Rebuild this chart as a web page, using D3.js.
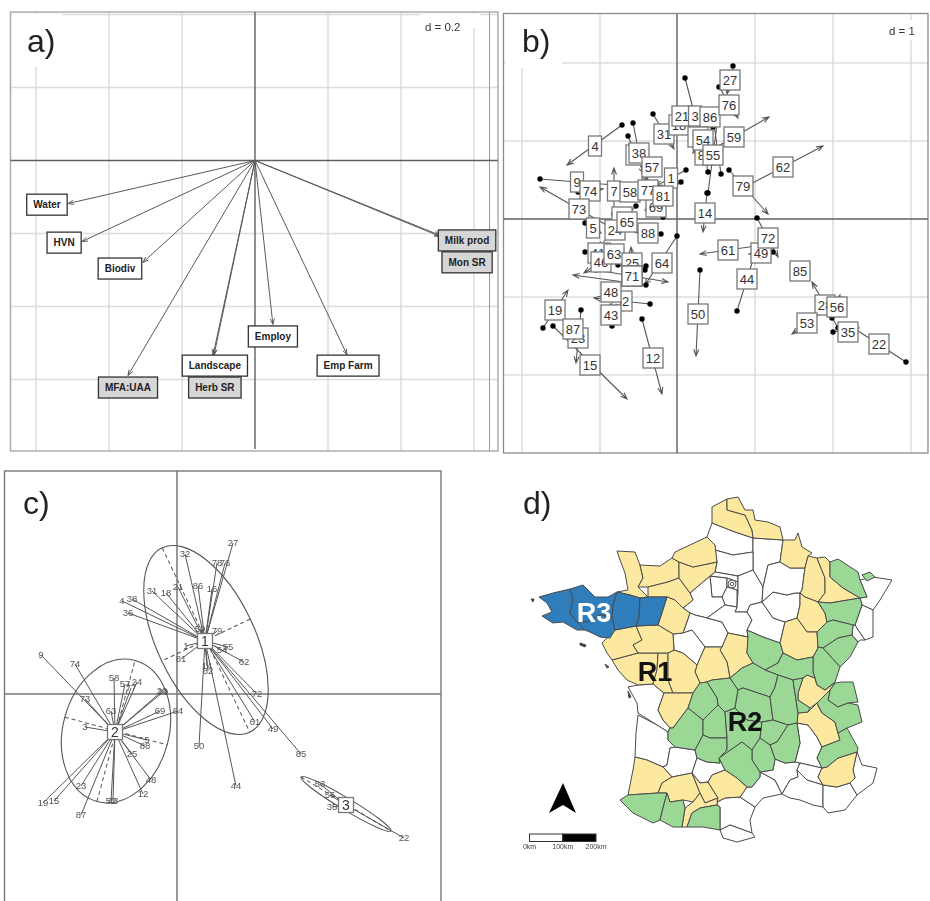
<!DOCTYPE html>
<html><head><meta charset="utf-8">
<script src="https://cdn.jsdelivr.net/npm/d3@7/dist/d3.min.js"></script>
<style>html,body{margin:0;padding:0;background:#fff}svg{display:block;font-family:"Liberation Sans",Arial,sans-serif;filter:blur(.35px)}</style>
</head><body><svg id="fig" width="930" height="901"></svg>
<script>
// ---------- Panel a: variable loadings (d = 0.2) ----------
const varNames = ["Water","HVN","Biodiv","MFA:UAA","Landscape","Herb SR","Employ","Emp Farm","Milk prod","Mon SR"];
const varX     = [-0.512,-0.474,-0.307,-0.348,-0.112,-0.115,0.049,0.252,0.507,0.507];
const varY     = [-0.118,-0.222,-0.279,-0.589,-0.532,-0.534,-0.449,-0.532,-0.205,-0.208];
const varLabelX= [-0.570,-0.523,-0.370,-0.348,-0.110,-0.110,0.049,0.255,0.581,0.581];
const varLabelY= [-0.121,-0.225,-0.296,-0.622,-0.562,-0.622,-0.482,-0.562,-0.219,-0.279];
const varGrey  = [0,0,0,1,0,1,0,0,1,1];
const aGridTicks = [-0.6,-0.4,-0.2,0.2,0.4,0.6];

// ---------- Panel b: site scores, start, label and arrow end (units of d/78) ----------
const siteIds = ["4","9","74","73","5","7","58","36","38","57","31","1","69","77","81","","24","65","88","14","18","21","3","86","27","76","59","","82","54","55","79","62","61","49","72","44","50","85","28","56","53","35","22","64","41","46","63","25","","","71","52","48","43","19","23","87","15","12"];
const siteLabelX = [-82,-100,-87,-98,-84,-63,-47,-41,-38,-25,-13,-6,-21,-29,-14,-55,-62,-50,-29,28,2,5,18,33,53,52,57,21,28,26,36,66,106,51,84,91,70,21,123,148,160,130,171,202,-15,-79,-76,-63,-45,-45,-45,-45,-55,-66,-66,-122,-99,-104,-87,-24];
const siteLabelY = [73,37,28,10,-9,28,27,64,66,52,85,41,12,29,23,2,-11,-3,-14,6,94,103,103,102,139,114,82,82,64,79,64,33,52,-31,-34,-19,-60,-95,-52,-86,-88,-104,-113,-125,-44,-34,-43,-35,-44,-57,-57,-57,-82,-73,-96,-91,-119,-110,-146,-139];
const siteDotX   = [-55,-137,-99,-60,-92,-63,-51,-49,-44,-32,-24,9,-14,-28,4,-59,-41,-54,-16,30,-2,1,8,44,56,42,22,17,31,36,31,52,66,79,96,80,60,23,119,161,155,145,156,229,0,-92,-59,-59,-44,-31,-32,-81,-27,-31,-65,-134,-96,-111,-124,-35];
const siteDotY   = [94,40,27,-12,-4,5,23,83,96,61,105,49,2,16,37,7,13,1,-15,26,99,107,141,45,153,132,62,86,47,92,26,49,31,-27,-33,1,-92,-51,-47,-109,-99,-93,-113,-143,-17,-33,-31,-46,-60,-47,-51,-51,-85,-66,-107,-109,-91,-103,-107,-100];
const siteTipX   = [-110,-63,-74,-137,-76,-63,-43,-33,-32,-18,-3,-21,-28,-30,-32,-51,-79,-46,-42,26,6,9,28,35,50,61,92,25,25,16,41,91,146,23,72,101,80,19,127,135,163,115,182,175,-32,-67,-93,-67,-46,-45,-45,-9,-83,-104,-67,-109,-101,-97,-50,-15];
const siteTipY   = [54,34,30,32,-14,51,31,45,36,43,70,33,22,42,9,-3,-29,-7,-13,-13,89,99,65,109,125,101,102,78,81,66,102,5,73,-35,-35,-38,-28,-137,-57,-63,-76,-115,-109,-108,-66,-36,-54,-24,-28,-57,-57,-63,-79,-56,-85,-71,-144,-117,-180,-175];
const bGridX = [-155,-77,78,156,234];
const bGridY = [156,78,-78,-156];

// ---------- Panel c: classes on the factorial plane (units of d/78) ----------
const classIds   = ["1","2","3"];
const classX     = [28,-62,169];
const classY     = [53,-38,-111];
const ellCx      = [29,-61,169];
const ellCy      = [54,-37,-110];
const ellMajor   = [102,73,52.5];
const ellMinor   = [49,53,6];
const ellAngle   = [64.6,-74.9,31];
const starIds = ["27","78","76","32","86","16","21","18","31","38","4","36","59","79","55","54","62","72","61","49","85","44","50","14","82","81","1",
 "9","74","73","58","57","77","24","63","3","29","20","69","64","5","88","25","48","12","43","52","23","19","15","87",
 "53","56","28","35","22"];
const starX = [56,40,48,8,21,35,1,-11,-25,-45,-55,-49,23,40,51,45,67,80,78,96,124,59,22,30,31,4,9,
 -136,-102,-92,-63,-52,-46,-40,-66,-92,-14,-15,-17,1,-30,-32,-45,-26,-34,-64,-66,-96,-134,-123,-96,
 143,153,166,155,227];
const starY = [151,131,131,140,108,105,107,101,103,95,93,81,65,63,47,44,32,0,-28,-35,-60,-92,-52,28,23,35,48,
 39,30,-5,16,10,6,12,-17,-33,2,3,-17,-17,-46,-52,-60,-86,-100,-107,-107,-92,-109,-107,-121,
 -90,-101,-106,-113,-144];
const starClass = [0,0,0,0,0,0,0,0,0,0,0,0,0,0,0,0,0,0,0,0,0,0,0,0,0,0,0,
 1,1,1,1,1,1,1,1,1,1,1,1,1,1,1,1,1,1,1,1,1,1,1,1,
 2,2,2,2,2];

// ---------- Panel d: department outlines in map units, by cluster ----------
const blueDepts = [
 [[539,597],[553,593],[570,589],[573,600],[570,613],[577,622],[585,630],[577,630],[563,622],[553,623],[542,616],[552,612],[547,603]],
 [[570,589],[583,585],[595,597],[608,597],[617,592],[613,605],[612,617],[600,615],[587,622],[577,622],[570,613],[573,600]],
 [[577,622],[587,622],[600,615],[612,617],[615,630],[610,638],[600,637],[592,633],[585,630]],
 [[617,592],[630,595],[640,598],[639,617],[636,626],[615,630],[612,617],[613,605]],
 [[640,598],[648,597],[667,597],[658,625],[636,626],[639,617]]
];
const yellowDepts = [
 [[617,551],[635,552],[640,565],[643,578],[638,587],[648,597],[640,598],[630,595],[617,592],[628,590],[625,573],[620,560]],
 [[640,565],[660,566],[672,558],[679,562],[679,578],[668,582],[648,587],[638,587],[643,578]],
 [[648,587],[668,582],[679,578],[690,593],[693,600],[683,608],[675,600],[667,597],[648,597]],
 [[667,597],[675,600],[683,608],[690,613],[683,633],[673,634],[658,625]],
 [[679,562],[693,567],[717,562],[715,572],[710,576],[690,593],[679,578]],
 [[672,558],[675,552],[707,537],[715,545],[717,562],[693,567],[679,562]],
 [[712,507],[727,499],[727,510],[745,515],[752,530],[753,538],[735,532],[712,523]],
 [[727,499],[738,497],[745,510],[753,510],[755,520],[768,522],[780,527],[783,540],[753,538],[752,530],[745,515],[727,510]],
 [[780,562],[783,540],[795,540],[798,533],[802,547],[812,553],[808,556],[805,568],[790,568]],
 [[805,568],[808,556],[817,558],[825,578],[825,593],[818,602],[805,597],[800,593],[802,590]],
 [[817,558],[825,557],[830,562],[830,577],[843,588],[860,598],[830,603],[818,602],[825,593],[825,578]],
 [[800,593],[805,597],[818,602],[825,613],[827,622],[817,632],[807,632],[797,618],[800,605]],
 [[785,622],[797,618],[807,632],[817,632],[818,647],[817,650],[813,657],[797,660],[783,653],[780,643]],
 [[722,647],[728,633],[748,637],[747,653],[753,663],[742,668],[730,678],[727,662],[720,650]],
 [[705,647],[722,647],[720,650],[727,662],[730,678],[712,680],[707,682],[700,683],[695,672],[697,665]],
 [[612,660],[638,653],[658,653],[657,670],[653,684],[638,685],[627,680],[618,670]],
 [[658,653],[668,653],[668,680],[673,693],[664,693],[653,684],[657,670]],
 [[668,653],[674,650],[683,653],[697,665],[695,672],[700,683],[693,693],[673,693],[668,680]],
 [[658,710],[664,693],[673,693],[693,693],[688,708],[673,728],[670,728],[663,720]],
 [[602,643],[615,630],[636,626],[642,640],[633,645],[638,653],[612,660],[607,653]],
 [[636,626],[658,625],[673,634],[674,650],[668,653],[638,653],[633,645],[642,640]],
 [[635,757],[647,760],[663,767],[672,777],[662,783],[658,793],[628,795],[633,770]],
 [[662,783],[672,777],[692,773],[700,793],[693,802],[683,800],[670,802],[667,793],[658,793]],
 [[692,773],[700,783],[708,782],[718,798],[705,803],[700,793]],
 [[700,793],[705,803],[718,798],[717,805],[700,808],[692,813],[687,827],[682,827],[685,808],[693,802]],
 [[712,775],[725,770],[737,778],[747,787],[740,797],[725,798],[717,802],[718,798],[708,782]],
 [[798,693],[803,678],[807,675],[815,678],[817,685],[825,690],[835,683],[830,690],[817,703],[810,708],[798,700]],
 [[797,723],[798,713],[808,712],[817,703],[822,713],[835,722],[838,733],[840,740],[822,747],[817,737],[808,725]],
 [[822,768],[827,767],[838,758],[857,752],[853,770],[855,778],[850,783],[837,787],[823,785],[818,777]]
];
const greenDepts = [
 [[830,562],[838,559],[858,572],[860,580],[867,597],[860,598],[843,588],[830,577]],
 [[862,575],[870,572],[875,577],[867,581]],
 [[818,602],[830,603],[860,598],[862,605],[855,625],[853,625],[833,620],[827,622],[825,613]],
 [[827,622],[833,620],[853,625],[852,635],[838,638],[823,648],[818,647],[817,632]],
 [[852,635],[858,642],[850,657],[840,667],[823,648],[838,638]],
 [[823,648],[840,667],[835,682],[825,690],[817,685],[815,678],[813,672],[813,657],[817,650],[818,647]],
 [[748,637],[747,630],[763,637],[780,643],[783,653],[778,663],[765,670],[753,663],[747,653]],
 [[783,653],[797,660],[813,657],[813,672],[815,678],[807,675],[803,678],[793,680],[778,675],[765,670],[778,663]],
 [[730,678],[742,668],[753,663],[765,670],[778,675],[775,687],[770,697],[755,692],[743,688],[738,690]],
 [[712,680],[730,678],[738,690],[735,708],[725,712],[718,705],[717,698],[707,682]],
 [[688,708],[693,693],[700,683],[707,682],[717,698],[718,705],[703,720]],
 [[688,708],[673,728],[670,728],[668,732],[668,740],[675,747],[695,750],[703,735],[703,720]],
 [[703,720],[718,705],[725,712],[727,738],[710,738],[703,735]],
 [[703,735],[710,738],[727,738],[727,750],[719,758],[720,763],[707,762],[697,758],[695,750]],
 [[727,738],[725,712],[735,708],[747,720],[762,722],[760,738],[752,750],[742,742],[719,758],[727,750]],
 [[738,690],[743,688],[755,692],[770,697],[773,720],[762,722],[747,720],[735,708]],
 [[770,697],[775,687],[778,675],[793,680],[798,713],[797,723],[788,725],[773,720]],
 [[793,680],[803,678],[798,693],[798,700],[810,708],[808,712],[798,713]],
 [[762,722],[773,720],[788,725],[777,742],[770,745],[760,738]],
 [[777,742],[788,725],[797,723],[800,743],[795,762],[785,763],[775,759],[770,745]],
 [[752,750],[760,738],[770,745],[775,759],[773,770],[760,772],[752,760]],
 [[719,758],[742,742],[752,750],[752,760],[760,772],[760,777],[752,787],[747,787],[737,778],[725,770]],
 [[830,690],[835,683],[842,682],[853,682],[858,702],[848,703],[838,707],[828,700]],
 [[822,713],[817,703],[830,690],[828,700],[838,707],[848,703],[858,705],[862,722],[847,728],[838,733],[835,722]],
 [[817,758],[822,747],[840,740],[838,733],[847,728],[858,748],[857,752],[838,758],[827,767],[822,768]],
 [[620,800],[628,795],[658,793],[667,793],[663,808],[660,820],[653,823],[633,813]],
 [[667,793],[670,802],[683,800],[685,808],[682,827],[673,827],[660,820],[663,808]],
 [[692,813],[700,808],[717,805],[720,807],[720,830],[703,827],[687,827]]
];
const whiteDepts = [
 [[712,523],[735,532],[753,538],[753,552],[733,555],[715,550],[715,545],[707,537]],
 [[753,538],[783,540],[780,562],[768,565],[763,587],[753,570],[753,552]],
 [[715,550],[733,555],[753,552],[753,570],[738,576],[715,572],[717,562]],
 [[710,576],[727,578],[727,587],[722,597],[712,597]],
 [[715,572],[738,576],[738,582],[727,578],[710,576]],
 [[727,578],[738,582],[738,593],[737,590],[727,587]],
 [[722,597],[727,587],[737,590],[737,607],[725,605]],
 [[738,576],[753,570],[763,587],[762,602],[750,605],[747,612],[735,612],[737,607],[738,593]],
 [[690,593],[710,576],[712,597],[722,597],[725,605],[722,607],[707,618],[695,615],[690,613],[683,608],[693,600]],
 [[690,613],[695,615],[707,618],[722,622],[728,633],[722,647],[705,647],[692,630],[683,633]],
 [[722,607],[725,605],[737,607],[735,612],[747,612],[752,620],[747,630],[748,637],[728,633],[722,622],[707,618]],
 [[750,605],[762,602],[773,618],[785,622],[780,643],[763,637],[747,630],[752,620],[747,612]],
 [[762,602],[773,592],[787,595],[795,593],[800,593],[800,605],[797,618],[785,622],[773,618]],
 [[763,587],[768,565],[780,562],[790,568],[805,568],[802,590],[800,593],[795,593],[787,595],[773,592],[762,602]],
 [[673,634],[683,633],[692,630],[705,647],[697,665],[683,653],[674,650]],
 [[860,580],[873,577],[892,580],[880,600],[873,610],[862,605],[860,598],[867,597]],
 [[862,605],[873,610],[873,637],[865,640],[858,630],[855,625]],
 [[853,625],[855,625],[858,630],[865,640],[860,640],[858,642],[852,635]],
 [[628,687],[638,685],[653,684],[664,693],[658,710],[663,720],[670,728],[668,732],[657,725],[638,713],[637,703]],
 [[638,715],[657,725],[668,732],[668,740],[675,747],[670,748],[667,765],[663,767],[647,760],[635,757],[636,733]],
 [[670,748],[675,747],[695,750],[697,758],[692,773],[672,777],[663,767],[667,765]],
 [[692,773],[697,758],[707,762],[720,763],[719,758],[725,770],[712,775],[708,782],[700,783]],
 [[717,805],[717,802],[725,798],[740,797],[755,807],[750,820],[752,833],[730,825],[720,830],[720,807]],
 [[720,830],[730,825],[752,833],[755,837],[737,842],[723,838]],
 [[740,797],[747,787],[752,787],[760,777],[760,772],[775,780],[782,794],[763,798],[755,807]],
 [[760,772],[773,770],[775,759],[785,763],[795,762],[800,763],[797,770],[798,777],[790,780],[782,794],[775,780]],
 [[797,723],[808,725],[817,737],[822,747],[817,758],[822,768],[800,763],[795,762],[800,743]],
 [[800,763],[822,768],[818,777],[823,785],[807,780],[797,770]],
 [[782,794],[790,780],[798,777],[797,770],[807,780],[823,785],[823,807],[813,805],[800,800],[790,798]],
 [[823,785],[837,787],[850,783],[857,795],[845,810],[828,813],[823,807]],
 [[857,752],[862,765],[877,768],[873,783],[857,795],[850,783],[855,778],[853,770]]
];
const islands = [
 [[531,599],[534,599],[533,602]],[[580,643],[586,645],[585,647],[580,645]],
 [[605,664],[609,667],[607,668]],[[628,691],[631,697],[629,698]]
];
const regionNames = ["R3","R1","R2"];
const regionX = [594,655,745];
const regionY = [622,681,731];
const regionFill = ["#fff","#111","#111"];
const northArrow = [[563,783],[576,813],[563,805],[549,813]];
const scaleKm = [0,100,200];

// ---------- Drawing ----------
const svg = d3.select("#fig");
const GRID="#dcdcdc", AXIS="#5f5f5f", FRAME="#a8a8a8";

function arrowPath(x0,y0,x1,y1,len){
  const a=Math.atan2(y1-y0,x1-x0), s=0.36, p=d3.path();
  p.moveTo(x0,y0); p.lineTo(x1,y1);
  p.moveTo(x1-len*Math.cos(a-s),y1-len*Math.sin(a-s));
  p.lineTo(x1,y1);
  p.lineTo(x1-len*Math.cos(a+s),y1-len*Math.sin(a+s));
  return p.toString();
}
function panelText(x,y,t){svg.append("text").attr("x",x).attr("y",y).attr("font-size",32).attr("fill","#222").text(t);}

function gridLines(g,xs,ys,xr,yr){
  g.selectAll(null).data(xs).join("line").attr("x1",d=>d).attr("x2",d=>d).attr("y1",yr[0]).attr("y2",yr[1]).attr("stroke",GRID).attr("stroke-width",1.5);
  g.selectAll(null).data(ys).join("line").attr("y1",d=>d).attr("y2",d=>d).attr("x1",xr[0]).attr("x2",xr[1]).attr("stroke",GRID).attr("stroke-width",1.5);
}

// ----- a -----
(function(){
  const ax=d3.scaleLinear().domain([0,0.2]).range([255,328]);
  const ay=d3.scaleLinear().domain([0,0.2]).range([160.5,87.5]);
  const g=svg.append("g");
  gridLines(g,aGridTicks.map(ax),aGridTicks.slice(1,5).map(ay).concat([ay(-0.6)]),[10.5,498],[12,451]);
  g.append("rect").attr("x",12).attr("y",14).attr("width",50).attr("height",53).attr("fill","#fff");
  g.append("rect").attr("x",420).attr("y",14).attr("width",60).attr("height",14).attr("fill","#fff");
  g.append("rect").attr("x",10.5).attr("y",12).attr("width",487.5).attr("height",439).attr("fill","none").attr("stroke",FRAME).attr("stroke-width",1.4);
  g.append("line").attr("x1",489.5).attr("x2",489.5).attr("y1",12).attr("y2",451).attr("stroke","#999");
  g.append("line").attr("x1",ax(0)).attr("x2",ax(0)).attr("y1",12).attr("y2",449).attr("stroke",AXIS).attr("stroke-width",1.4);
  g.append("line").attr("x1",10.5).attr("x2",498).attr("y1",ay(0)).attr("y2",ay(0)).attr("stroke",AXIS).attr("stroke-width",1.3);
  const idx=d3.range(varNames.length);
  g.selectAll(null).data(idx).join("path")
    .attr("d",i=>arrowPath(ax(0),ay(0),ax(varX[i]),ay(varY[i]),6))
    .attr("fill","none").attr("stroke","#5a5a5a").attr("stroke-width",1);
  const lab=g.selectAll(null).data(idx).join("g").attr("transform",i=>`translate(${ax(varLabelX[i])},${ay(varLabelY[i])})`);
  lab.append("text").attr("text-anchor","middle").attr("dy",3.6).attr("font-size",10).attr("font-weight","bold").attr("fill","#222").text(i=>varNames[i]);
  lab.insert("rect","text").each(function(){
    const w=this.parentNode.querySelector("text").getComputedTextLength()+13;
    d3.select(this).attr("x",-w/2).attr("width",w);
  }).attr("y",-10.5).attr("height",21)
    .attr("fill",i=>varGrey[i]?"#d6d6d6":"#fff").attr("stroke","#333").attr("stroke-width",1.3);
  svg.append("text").attr("x",425).attr("y",31).attr("font-size",11.5).attr("fill","#333").text("d = 0.2");
  panelText(27,52,"a)");
})();

// ----- b -----
(function(){
  const bx=d3.scaleLinear().domain([0,78]).range([677,755]);
  const by=d3.scaleLinear().domain([0,78]).range([219,141]);
  const g=svg.append("g");
  gridLines(g,bGridX.map(bx),bGridY.map(by),[503.5,928],[14,453]);
  g.append("rect").attr("x",505).attr("y",15).attr("width",57).attr("height",53).attr("fill","#fff");
  g.append("rect").attr("x",885).attr("y",20).attr("width",40).attr("height",20).attr("fill","#fff");
  g.append("rect").attr("x",503.5).attr("y",13.5).attr("width",424.5).attr("height",439.5).attr("fill","none").attr("stroke","#8c8c8c").attr("stroke-width",1.3);
  g.append("line").attr("x1",bx(0)).attr("x2",bx(0)).attr("y1",14).attr("y2",453).attr("stroke",AXIS).attr("stroke-width",1.4);
  g.append("line").attr("x1",503.5).attr("x2",928).attr("y1",by(0)).attr("y2",by(0)).attr("stroke",AXIS).attr("stroke-width",1.4);
  const idx=d3.range(siteIds.length);
  g.selectAll(null).data(idx).join("path")
    .attr("d",i=>arrowPath(bx(siteDotX[i]),by(siteDotY[i]),bx(siteTipX[i]),by(siteTipY[i]),7))
    .attr("fill","none").attr("stroke","#555").attr("stroke-width",1.1);
  g.selectAll(null).data(idx).join("circle")
    .attr("cx",i=>bx(siteDotX[i])).attr("cy",i=>by(siteDotY[i])).attr("r",2.7).attr("fill","#000");
  const lab=g.selectAll(null).data(idx).join("g").attr("transform",i=>`translate(${bx(siteLabelX[i])},${by(siteLabelY[i])})`);
  lab.append("rect").attr("x",i=>siteIds[i].length===1?-6.5:-10).attr("width",i=>siteIds[i].length===1?13:20)
    .attr("y",-10).attr("height",20).attr("fill","#fff").attr("stroke","#777").attr("stroke-width",1.3);
  lab.append("text").attr("text-anchor","middle").attr("dy",4.6).attr("font-size",13).attr("fill","#333").text(i=>siteIds[i]);
  svg.append("text").attr("x",889).attr("y",35).attr("font-size",11.5).attr("fill","#333").text("d = 1");
  panelText(522,52,"b)");
})();

// ----- c -----
(function(){
  const cx=d3.scaleLinear().domain([0,78]).range([177,255]);
  const cy=d3.scaleLinear().domain([0,78]).range([694,616]);
  const g=svg.append("g");
  g.append("rect").attr("x",4.5).attr("y",471).attr("width",436.5).attr("height",435).attr("fill","none").attr("stroke","#777").attr("stroke-width",1.4);
  g.append("line").attr("x1",cx(0)).attr("x2",cx(0)).attr("y1",471).attr("y2",901).attr("stroke","#777").attr("stroke-width",1.5);
  g.append("line").attr("x1",4.5).attr("x2",441).attr("y1",cy(0)).attr("y2",cy(0)).attr("stroke","#777").attr("stroke-width",1.5);
  const ec=d3.range(classIds.length);
  const eg=g.selectAll(null).data(ec).join("g").attr("transform",i=>`translate(${cx(ellCx[i])},${cy(ellCy[i])}) rotate(${ellAngle[i]})`);
  eg.append("ellipse").attr("rx",i=>ellMajor[i]).attr("ry",i=>ellMinor[i]).attr("fill","none").attr("stroke","#555").attr("stroke-width",1.1);
  eg.append("line").attr("x1",i=>-ellMajor[i]).attr("x2",i=>ellMajor[i]).attr("stroke","#555").attr("stroke-dasharray","4 3");
  eg.append("line").attr("y1",i=>-ellMinor[i]).attr("y2",i=>ellMinor[i]).attr("stroke","#555").attr("stroke-dasharray","4 3");
  const idx=d3.range(starIds.length);
  g.selectAll(null).data(idx).join("line")
    .attr("x1",i=>cx(classX[starClass[i]])).attr("y1",i=>cy(classY[starClass[i]]))
    .attr("x2",i=>cx(starX[i])).attr("y2",i=>cy(starY[i]))
    .attr("stroke","#555").attr("stroke-width",1);
  g.selectAll(null).data(idx).join("text")
    .attr("x",i=>cx(starX[i])).attr("y",i=>cy(starY[i])+3.3).attr("text-anchor","middle")
    .attr("font-size",9.5).attr("fill","#555").text(i=>starIds[i]);
  const lab=g.selectAll(null).data(ec).join("g").attr("transform",i=>`translate(${cx(classX[i])},${cy(classY[i])})`);
  lab.append("rect").attr("x",-7.5).attr("y",-7.5).attr("width",15).attr("height",15).attr("fill","#fff").attr("stroke","#777").attr("stroke-width",1.3);
  lab.append("text").attr("text-anchor","middle").attr("dy",5).attr("font-size",14).attr("fill","#333").text(i=>classIds[i]);
  panelText(23,514,"c)");
})();

// ----- d -----
(function(){
  const path=d3.geoPath(d3.geoIdentity());
  const g=svg.append("g");
  const poly=r=>({type:"Polygon",coordinates:[r.concat([r[0]])]});
  const layers=[[whiteDepts,"#fff"],[yellowDepts,"#fde8a0"],[greenDepts,"#9bd795"],[blueDepts,"#2f7dbb"],[islands,"#444"]];
  layers.forEach(([rings,fill])=>{
    g.selectAll(null).data(rings).join("path").attr("d",r=>path(poly(r)))
      .attr("fill",fill).attr("stroke","#4a4a4a").attr("stroke-width",1).attr("stroke-linejoin","round");
  });
  g.append("circle").attr("cx",732).attr("cy",584).attr("r",4).attr("fill","#fff").attr("stroke","#555");
  g.append("circle").attr("cx",732).attr("cy",584).attr("r",1.8).attr("fill","none").attr("stroke","#555");
  g.selectAll(null).data(regionNames).join("text")
    .attr("x",(d,i)=>regionX[i]).attr("y",(d,i)=>regionY[i]).attr("text-anchor","middle")
    .attr("font-size",27).attr("font-weight","bold").attr("fill",(d,i)=>regionFill[i]).text(d=>d);
  g.append("path").attr("d",d3.line()(northArrow)+"Z").attr("fill","#000");
  const sx=d3.scaleLinear().domain([0,200]).range([529.5,596]);
  g.append("rect").attr("x",sx(0)).attr("y",834).attr("width",sx(100)-sx(0)).attr("height",7.5).attr("fill","#fff").attr("stroke","#333");
  g.append("rect").attr("x",sx(100)).attr("y",834).attr("width",sx(200)-sx(100)).attr("height",7.5).attr("fill","#000").attr("stroke","#333");
  g.selectAll(null).data(scaleKm).join("text").attr("x",d=>sx(d)).attr("y",849).attr("text-anchor","middle")
    .attr("font-size",7).attr("fill","#444").text(d=>d+"km");
  panelText(523,514,"d)");
})();
</script></body></html>
